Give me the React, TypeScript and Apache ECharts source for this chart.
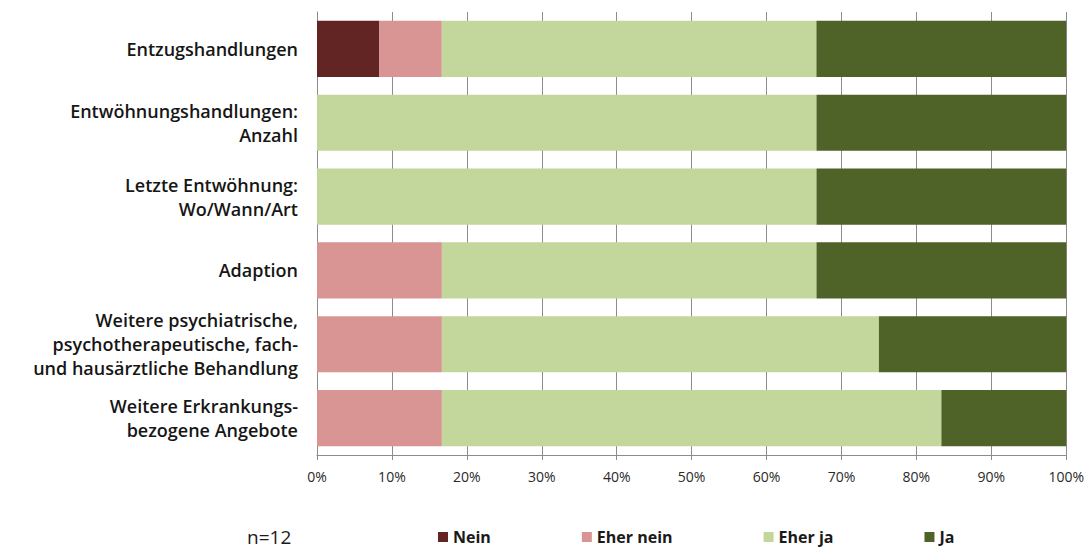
import React, { useEffect, useRef } from "react";
import * as echarts from "echarts";

const categories = [
  "Entzugshandlungen",
  "Entwöhnungshandlungen:\nAnzahl",
  "Letzte Entwöhnung:\nWo/Wann/Art",
  "Adaption",
  "Weitere psychiatrische,\npsychotherapeutische, fach-\nund hausärztliche Behandlung",
  "Weitere Erkrankungs-\nbezogene Angebote",
];

const seriesNames = ["Nein", "Eher nein", "Eher ja", "Ja"];
const neinValues = [8.33, 0, 0, 0, 0, 0];
const eherNeinValues = [8.33, 0, 0, 16.67, 16.67, 16.67];
const eherJaValues = [50, 66.67, 66.67, 50, 58.33, 66.67];
const jaValues = [33.33, 33.33, 33.33, 33.33, 25, 16.67];
const colors = ["#632523", "#D99594", "#C3D69B", "#4F6228"];
const sampleLabel = "n=12";

export default function App() {
  const ref = useRef<HTMLDivElement>(null);
  useEffect(() => {
    if (!ref.current) return;
    const chart = echarts.init(ref.current, undefined, { renderer: "svg" });
    const values = [neinValues, eherNeinValues, eherJaValues, jaValues];
    chart.setOption({
      animation: false,
      backgroundColor: "#ffffff",
      grid: { left: 317, top: 12, width: 750, height: 443, containLabel: false },
      xAxis: {
        type: "value",
        min: 0,
        max: 100,
        interval: 10,
        axisLabel: {
          formatter: "{value}%",
          fontFamily: "Open Sans",
          fontSize: 14,
          color: "#2a2a2a",
          margin: 14,
        },
        axisLine: { show: true, lineStyle: { color: "#8c8c8c", width: 1 } },
        axisTick: { show: true, length: 5, lineStyle: { color: "#8c8c8c" } },
        splitLine: { show: true, lineStyle: { color: "#8c8c8c", width: 1 } },
      },
      yAxis: {
        type: "category",
        data: categories,
        inverse: true,
        axisLine: { show: true, lineStyle: { color: "#8c8c8c", width: 1 } },
        axisTick: { show: false },
        axisLabel: {
          fontFamily: "Open Sans",
          fontWeight: 600,
          fontSize: 18,
          lineHeight: 24,
          color: "#161616",
          align: "right",
          margin: 19,
        },
      },
      legend: {
        left: 433,
        top: 523,
        itemWidth: 10,
        itemHeight: 10,
        itemGap: 91,
        icon: "rect",
        data: seriesNames,
        textStyle: {
          fontFamily: "Open Sans",
          fontWeight: 700,
          fontSize: 16,
          lineHeight: 18,
          color: "#1a1a1a",
        },
      },
      graphic: [
        {
          type: "text",
          left: 247,
          top: 527,
          style: {
            text: sampleLabel,
            fontFamily: "Open Sans",
            fontSize: 19,
            fill: "#1a1a1a",
          },
        },
      ],
      series: seriesNames.map((name, i) => ({
        name,
        type: "bar",
        stack: "total",
        barWidth: "76%",
        data: values[i],
        itemStyle: { color: colors[i] },
        emphasis: { disabled: true },
      })),
    });
    return () => chart.dispose();
  }, []);
  return (
    <div
      ref={ref}
      style={{ position: "fixed", left: 0, top: 0, width: 1087, height: 549 }}
    />
  );
}
